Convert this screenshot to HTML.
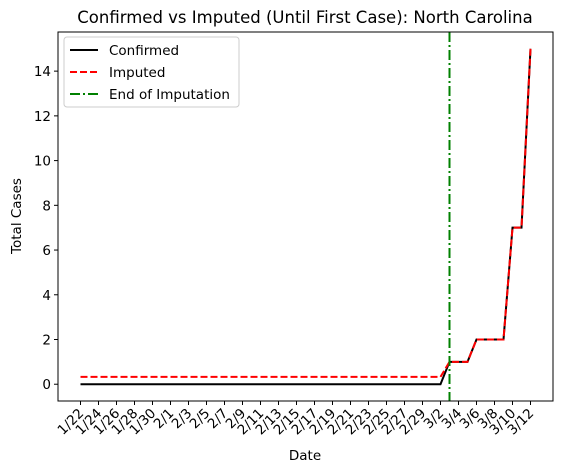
<!DOCTYPE html>
<html><head><meta charset="utf-8"><style>
body{margin:0;background:#fff}
svg{display:block;font-family:"DejaVu Sans","Liberation Sans",sans-serif}
</style></head><body>
<svg id="chart" width="562" height="473" viewBox="0 0 562 473" xmlns="http://www.w3.org/2000/svg">
<text x="305" y="23" font-size="16.5" text-anchor="middle">Confirmed vs Imputed (Until First Case): North Carolina</text>
<g id="plot"></g>
<rect x="58" y="32" width="495" height="369" fill="none" stroke="#000" stroke-width="1"/>
<text x="305" y="460" font-size="13.5" text-anchor="middle">Date</text>
<text transform="translate(21,216) rotate(-90)" font-size="13.5" text-anchor="middle">Total Cases</text>
<g>
<rect x="64" y="37" width="175" height="70" rx="3" fill="#fff" fill-opacity="0.8" stroke="#ccc"/>
<line x1="70" y1="50" x2="98" y2="50" stroke="#000" stroke-width="2"/>
<text x="109" y="55" font-size="13.5">Confirmed</text>
<line x1="70" y1="72" x2="98" y2="72" stroke="red" stroke-width="2" stroke-dasharray="7,3"/>
<text x="109" y="77" font-size="13.5">Imputed</text>
<line x1="70" y1="94" x2="98" y2="94" stroke="green" stroke-width="2" stroke-dasharray="10,3,2,3"/>
<text x="109" y="99" font-size="13.5">End of Imputation</text>
</g>
</svg>
<script>
const dates=["1/22","1/23","1/24","1/25","1/26","1/27","1/28","1/29","1/30","1/31","2/1","2/2","2/3","2/4","2/5","2/6","2/7","2/8","2/9","2/10","2/11","2/12","2/13","2/14","2/15","2/16","2/17","2/18","2/19","2/20","2/21","2/22","2/23","2/24","2/25","2/26","2/27","2/28","2/29","3/1","3/2","3/3","3/4","3/5","3/6","3/7","3/8","3/9","3/10","3/11","3/12"];
const confirmed=[0,0,0,0,0,0,0,0,0,0,0,0,0,0,0,0,0,0,0,0,0,0,0,0,0,0,0,0,0,0,0,0,0,0,0,0,0,0,0,0,0,1,1,1,2,2,2,2,7,7,15];
const imputed=[0.33,0.33,0.33,0.33,0.33,0.33,0.33,0.33,0.33,0.33,0.33,0.33,0.33,0.33,0.33,0.33,0.33,0.33,0.33,0.33,0.33,0.33,0.33,0.33,0.33,0.33,0.33,0.33,0.33,0.33,0.33,0.33,0.33,0.33,0.33,0.33,0.33,0.33,0.33,0.33,0.33,1,1,1,2,2,2,2,7,7,15];
const yTicks=[0,2,4,6,8,10,12,14];
const imputationEnd="3/3";
const NS="http://www.w3.org/2000/svg";
const L=58,R=553,T=32,B=401;
const n=dates.length;
const xmin=-0.05*(n-1),xmax=(n-1)*1.05;
const allV=confirmed.concat(imputed);
const vmax=Math.max(...allV),vmin=Math.min(...allV);
const ymin=vmin-0.05*(vmax-vmin),ymax=vmax+0.05*(vmax-vmin);
const X=i=>L+(i-xmin)/(xmax-xmin)*(R-L);
const Y=v=>B-(v-ymin)/(ymax-ymin)*(B-T);
const g=document.getElementById('plot');
function mk(t,a){const e=document.createElementNS(NS,t);for(const k in a)e.setAttribute(k,a[k]);g.appendChild(e);return e;}
yTicks.forEach(v=>{
 const y=Y(v);
 const tk=mk('line',{x1:L-4,x2:L,y1:y,y2:y,stroke:'#000'});
 
 
 const t=mk('text',{x:L-7,y:y+5,'font-size':13.5,'text-anchor':'end'});t.textContent=v;
 
 
});
dates.forEach((d,i)=>{
 if(i%2)return;
 const x=X(i);
 const tk=mk('line',{x1:x,x2:x,y1:B,y2:B+4,stroke:'#000'});
 
 
 const t=mk('text',{transform:`translate(${x+4},${B+13}) rotate(-45)`,'font-size':13.5,'text-anchor':'end'});t.textContent=d;
 
 
});
const pc=mk('polyline',{points:confirmed.map((v,i)=>X(i)+','+Y(v)).join(' '),fill:'none',stroke:'#000','stroke-width':2});


const pi=mk('polyline',{points:imputed.map((v,i)=>X(i)+','+Y(v)).join(' '),fill:'none',stroke:'red','stroke-width':2,'stroke-dasharray':'7,3'});


const vx=X(dates.indexOf(imputationEnd));
const vl=mk('line',{x1:vx,x2:vx,y1:T,y2:B,stroke:'green','stroke-width':2,'stroke-dasharray':'10,3,2,3'});


</script>
</body></html>
